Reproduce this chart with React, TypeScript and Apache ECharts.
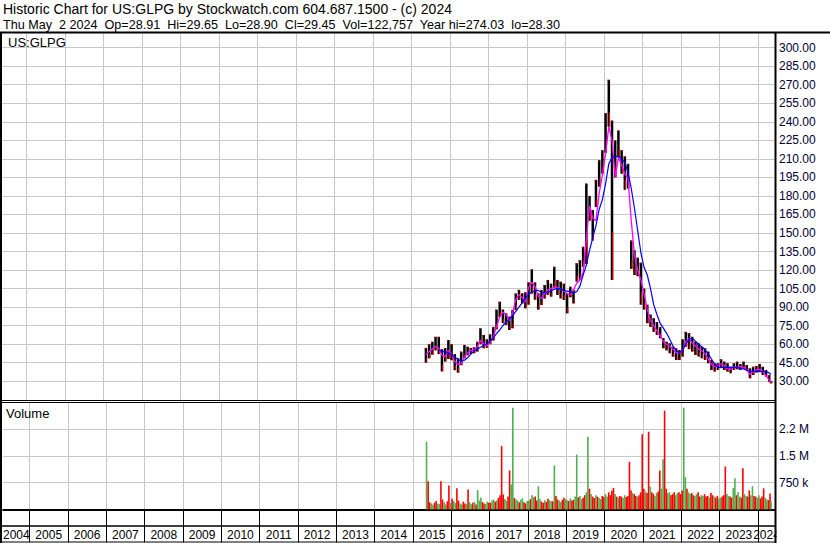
import React, { useEffect, useRef } from 'react';
import * as echarts from 'echarts';

const FONT = 'Arial, "Liberation Sans", Helvetica, sans-serif';
const AXIS_TEXT = '#000033';
const GRID_GREY = '#c8c8c8';
const VOL_GREEN = '#4cb04c';
const VOL_RED = '#ff0000';

const headerLine1 = 'Historic Chart for US:GLPG by Stockwatch.com 604.687.1500 - (c) 2024';
const headerLine2 = 'Thu May  2 2024  Op=28.91  Hi=29.65  Lo=28.90  Cl=29.45  Vol=122,757  Year hi=274.03  lo=28.30';
const symbolLabel = 'US:GLPG';
const volumeLabel = 'Volume';

// x extent in decimal years (left edge / right edge of the plot)
const X_MIN = 2004.312;
const X_MAX = 2024.442;

const yearTicks = [2005, 2006, 2007, 2008, 2009, 2010, 2011, 2012, 2013, 2014, 2015, 2016, 2017, 2018, 2019, 2020, 2021, 2022, 2023, 2024];
const yearLabelPos = [2004.656, 2005.5, 2006.5, 2007.5, 2008.5, 2009.5, 2010.5, 2011.5, 2012.5, 2013.5, 2014.5, 2015.5, 2016.5, 2017.5, 2018.5, 2019.5, 2020.5, 2021.5, 2022.5, 2023.5, 2024.221];

const months = [
  '2015-05', '2015-06', '2015-07', '2015-08', '2015-09', '2015-10', '2015-11', '2015-12',
  '2016-01', '2016-02', '2016-03', '2016-04', '2016-05', '2016-06', '2016-07', '2016-08', '2016-09', '2016-10', '2016-11', '2016-12',
  '2017-01', '2017-02', '2017-03', '2017-04', '2017-05', '2017-06', '2017-07', '2017-08', '2017-09', '2017-10', '2017-11', '2017-12',
  '2018-01', '2018-02', '2018-03', '2018-04', '2018-05', '2018-06', '2018-07', '2018-08', '2018-09', '2018-10', '2018-11', '2018-12',
  '2019-01', '2019-02', '2019-03', '2019-04', '2019-05', '2019-06', '2019-07', '2019-08', '2019-09', '2019-10', '2019-11', '2019-12',
  '2020-01', '2020-02', '2020-03', '2020-04', '2020-05', '2020-06', '2020-07', '2020-08', '2020-09', '2020-10', '2020-11', '2020-12',
  '2021-01', '2021-02', '2021-03', '2021-04', '2021-05', '2021-06', '2021-07', '2021-08', '2021-09', '2021-10', '2021-11', '2021-12',
  '2022-01', '2022-02', '2022-03', '2022-04', '2022-05', '2022-06', '2022-07', '2022-08', '2022-09', '2022-10', '2022-11', '2022-12',
  '2023-01', '2023-02', '2023-03', '2023-04', '2023-05', '2023-06', '2023-07', '2023-08', '2023-09', '2023-10', '2023-11', '2023-12',
  '2024-01', '2024-02', '2024-03', '2024-04', '2024-05-02',
];

const priceHigh = [
  57, 60, 62, 66, 66, 56, 57, 63.4, 60, 52,
  48.6, 54, 59.4, 58, 57, 57.5, 62, 72.9, 67.5, 64,
  68, 74, 88, 94.4, 88, 85, 82.3, 87.7, 101, 104,
  101.2, 102, 110, 120.6, 110, 101.2, 103.9, 107.9, 112, 109,
  122.7, 112, 110.6, 109, 101.2, 106.5, 104, 125.5, 128, 138.9,
  190, 180, 168.6, 193, 209, 217, 247, 274, 241, 225,
  233, 217, 212, 206, 144, 136, 130, 126, 105, 92,
  84, 81, 78, 74, 65, 62, 60.7, 58, 56.7, 55.3,
  64, 70, 69, 66, 62, 60.7, 58, 56.7, 54, 47.2,
  44.6, 44.6, 47.8, 45.9, 44.6, 41.8, 44.6, 45.9, 44, 45.9,
  43.2, 40.5, 41.8, 42.4, 44, 41.8, 39.1, 35.1, 30,
];

const priceLow = [
  45, 48.6, 51.5, 55, 52, 38, 46, 48, 47, 39,
  37, 43, 48.6, 51, 52, 52.7, 54, 60, 56.7, 57,
  60, 63, 72, 82, 77, 75.6, 71.5, 73, 87.7, 95.8,
  93, 89, 92, 101, 96, 88, 91.7, 97, 99.8, 98.5,
  106.5, 99.8, 97, 95.8, 85, 98, 93, 110.6, 112, 122.7,
  125, 160, 144, 171, 187.5, 198, 215, 236, 112, 195,
  211, 198, 185, 186, 121, 116, 115, 92, 88, 77,
  74, 70, 67.5, 64.8, 56.7, 55, 52.7, 49.9, 47.2, 47.2,
  50, 58, 56, 54, 51.3, 50, 48.6, 47.2, 44.6, 39.1,
  37.8, 39.1, 41.3, 39.1, 37.8, 36.5, 39.1, 39.7, 39.1, 40.5,
  38.6, 32.4, 35.1, 37, 37.8, 35.1, 33.7, 29.7, 28.3,
];

// short moving average (magenta)
const maShort = [
  51.5, 54, 56, 58, 57, 51, 50, 55, 52, 46,
  43.5, 44.5, 50, 53, 55, 55.3, 58, 63, 60.5, 58.6,
  61.5, 66, 74, 82, 86, 84, 79, 85, 96, 100,
  98, 94, 106, 110, 106.5, 99, 97, 101, 104, 105,
  106, 106, 104.5, 103, 101, 100, 104, 109.3, 112, 118,
  145, 172, 162, 160, 182, 197, 214, 236, 225, 195,
  211, 205, 198, 194, 160, 132, 120, 112, 101, 88,
  79, 75, 71, 67, 62, 60, 58.5, 56, 53, 53,
  55, 62, 64.5, 61, 58.5, 56, 54.5, 52.5, 48, 43.5,
  41.8, 42.5, 44.2, 42.8, 40, 39.5, 41.5, 41.3, 41.8, 41.3,
  39.1, 35.5, 37.6, 39.6, 39.7, 38, 34.5, 31, 29.5,
];

// long moving average (blue)
const maLong = [
  null, null, null, null, 55.5, 54, 54, 53, 51.3, 49.5,
  48, 46, 47, 49, 52, 54.5, 56, 57.5, 59, 60.5,
  62.5, 65, 68.5, 71.5, 75, 78, 80.5, 83, 86.5, 90,
  93.5, 97, 100.5, 102, 103.5, 103.5, 102, 101.5, 102, 103,
  104.5, 105, 104.5, 103.5, 103, 102.5, 101.5, 102.5, 107, 116,
  124, 136, 146, 156, 169, 177, 190, 206, 211, 212,
  212, 210, 207, 199, 186, 170, 152, 134, 122, 116,
  105, 92, 84, 77, 73, 69, 64, 58.5, 55, 53,
  55, 60, 64, 65, 62.5, 60, 58, 55.5, 52, 48,
  44, 41.5, 41, 41.3, 41.3, 41.3, 41.3, 41, 40.5, 40,
  39.1, 38.5, 37.8, 38.3, 37.8, 37.8, 37.8, 36.8, 35.5,
];

// volume in thousands, first and second half of each month
const volFirstHalf = [
  1890, 200, 130, 240, 160, 280, 140, 670, 300, 180,
  250, 140, 170, 560, 150, 210, 540, 330, 170, 220,
  190, 280, 260, 400, 420, 240, 1090, 2840, 280, 200,
  310, 170, 240, 400, 360, 650, 220, 260, 300, 240,
  1230, 280, 210, 330, 260, 310, 270, 1530, 380, 330,
  480, 580, 360, 400, 330, 380, 430, 480, 530, 430,
  330, 360, 400, 380, 530, 430, 360, 480, 580, 460,
  640, 430, 460, 1090, 1400, 580, 480, 430, 400, 480,
  530, 900, 480, 460, 380, 480, 400, 430, 380, 460,
  360, 380, 330, 400, 430, 360, 600, 400, 360, 1150,
  380, 530, 650, 360, 400, 360, 330, 260, 230,
];
const volSecondHalf = [
  785, 170, 190, 160, 785, 200, 230, 180, 240, 590,
  170, 220, 150, 200, 190, 140, 250, 210, 160, 190,
  250, 220, 320, 1770, 290, 360, 700, 320, 250, 270,
  200, 240, 290, 340, 250, 290, 190, 210, 260, 230,
  380, 250, 270, 290, 240, 250, 360, 340, 290, 400,
  2030, 430, 320, 360, 290, 350, 360, 400, 600, 360,
  380, 320, 350, 1330, 460, 380, 400, 2100, 500, 2170,
  480, 380, 500, 580, 2760, 460, 400, 480, 460, 430,
  2840, 580, 430, 400, 430, 360, 380, 360, 330, 400,
  330, 310, 360, 1200, 380, 330, 870, 480, 330, 430,
  360, 400, 380, 330, 310, 590, 280, 450, 0,
];
// g = up day (green), r = down day (red)
const colFirstHalf = 'grgrgrgrrg' + 'rgrrggggrg' + 'rggrrgrggr' + 'grggrgrgrg' + 'grgrggrggr' + 'grrggrgrrg' + 'grgrrrgrrr' + 'grgrgrgrgr' + 'rggrgrgrrr' + 'grgrgrgrgr' + 'grgrgrgrg';
const colSecondHalf = 'rgrgrgrggr' + 'grggrrgrgr' + 'grrrgrgrgg' + 'rgrgrgrrgr' + 'rgrgrrgrgr' + 'ggrrgrgrrr' + 'rgrrgrrrgr' + 'rgrgrgrrgr' + 'grgrgrgrgr' + 'rgrrgrggrg' + 'rgrgrrgrg';

function monthPos(m: string): number {
  const p = m.split('-').map(Number);
  const frac = p.length > 2 ? p[2] / 31 : 0.5;
  return p[0] + (p[1] - 1 + frac) / 12;
}
function halfPos(m: string, h: number): number {
  const p = m.split('-').map(Number);
  if (p.length > 2) return p[0] + (p[1] - 1 + p[2] / 31) / 12;
  return p[0] + (p[1] - 1 + 0.25 + 0.5 * h) / 12;
}

function buildOption(): any {
  const priceData = months.map((m, i) => [monthPos(m), priceHigh[i], priceLow[i]]);
  const shortData = months.map((m, i) => [monthPos(m), maShort[i]]);
  const longData = months
    .map((m, i) => (maLong[i] == null ? null : [monthPos(m), maLong[i]]))
    .filter((d) => d !== null);
  const volData: number[][] = [];
  months.forEach((m, i) => {
    volData.push([halfPos(m, 0), volFirstHalf[i] * 1000, colFirstHalf[i] === 'g' ? 1 : 0]);
    if (volSecondHalf[i] > 0) {
      volData.push([halfPos(m, 1), volSecondHalf[i] * 1000, colSecondHalf[i] === 'g' ? 1 : 0]);
    }
  });

  const labelStyle = { fontFamily: FONT, fontSize: 12, color: AXIS_TEXT };
  const textStyle = (text: string, size: number) => ({ text, fontSize: size, fontFamily: FONT, fill: '#000', verticalAlign: 'middle' });

  return {
    animation: false,
    backgroundColor: '#ffffff',
    grid: [
      { left: 0, right: 55, top: 29.1, height: 370.7 },
      { left: 0, right: 55, top: 402, height: 107.5 },
    ],
    xAxis: [
      {
        type: 'value', gridIndex: 0, min: X_MIN, max: X_MAX,
        axisLine: { show: false },
        axisTick: { show: false, customValues: yearTicks },
        axisLabel: { show: false },
        splitLine: { show: true, lineStyle: { color: GRID_GREY, width: 1 } },
      },
      {
        type: 'value', gridIndex: 1, min: X_MIN, max: X_MAX,
        axisLine: { show: true, onZero: false, lineStyle: { color: '#000', width: 2 } },
        axisTick: { show: true, customValues: yearTicks, length: 33, lineStyle: { color: '#000', width: 1 } },
        axisLabel: {
          show: true, customValues: yearLabelPos, margin: 19,
          fontFamily: FONT, fontSize: 12, color: '#000',
          formatter: (v: number) => String(Math.floor(v)),
        },
        splitLine: { show: true, lineStyle: { color: GRID_GREY, width: 1 } },
      },
    ],
    yAxis: [
      {
        type: 'value', gridIndex: 0, position: 'right', min: 15, max: 315, interval: 15,
        axisLine: { show: false }, axisTick: { show: false },
        axisLabel: {
          ...labelStyle, margin: 4, showMinLabel: false, showMaxLabel: false,
          formatter: (v: number) => v.toFixed(2),
        },
        splitLine: { show: true, lineStyle: { color: GRID_GREY, width: 1 } },
      },
      {
        type: 'value', gridIndex: 1, position: 'right', min: 0, max: 3000000, interval: 750000,
        axisLine: { show: false }, axisTick: { show: false },
        axisLabel: {
          ...labelStyle, margin: 4, showMinLabel: false, showMaxLabel: false,
          formatter: (v: number) => (v >= 1000000 ? (Math.floor(v / 100000) / 10).toFixed(1) + ' M' : Math.round(v / 1000) + ' k'),
        },
        splitLine: { show: true, lineStyle: { color: GRID_GREY, width: 1 } },
      },
    ],
    series: [
      {
        type: 'custom', name: 'price', xAxisIndex: 0, yAxisIndex: 0, data: priceData,
        encode: { x: 0, y: [1, 2] },
        renderItem: (params: any, api: any) => {
          const t = api.value(0);
          const hi = api.coord([t, api.value(1)]);
          const lo = api.coord([t, api.value(2)]);
          const w = api.size([1 / 12, 0])[0] * 0.78;
          const h = Math.max(lo[1] - hi[1], 1);
          const redH = Math.max(h * 0.3, 1.5);
          return {
            type: 'group',
            children: [
              { type: 'rect', shape: { x: hi[0] - w / 2, y: hi[1], width: w, height: h }, style: { fill: '#000' } },
              { type: 'rect', shape: { x: hi[0] + w / 2 - 1, y: lo[1] - redH, width: 1, height: redH }, style: { fill: '#f00' } },
              { type: 'rect', shape: { x: hi[0] - w / 2, y: hi[1], width: 1, height: 1.5 }, style: { fill: '#f00' } },
            ],
          };
        },
      },
      {
        type: 'line', name: 'short MA', xAxisIndex: 0, yAxisIndex: 0, data: shortData,
        symbol: 'none', lineStyle: { color: '#ff00ff', width: 1.3 }, itemStyle: { color: '#ff00ff' },
      },
      {
        type: 'line', name: 'long MA', xAxisIndex: 0, yAxisIndex: 0, data: longData,
        symbol: 'none', lineStyle: { color: '#0000ff', width: 1.2 }, itemStyle: { color: '#0000ff' },
      },
      {
        type: 'custom', name: 'volume', xAxisIndex: 1, yAxisIndex: 1, data: volData,
        encode: { x: 0, y: 1 },
        renderItem: (params: any, api: any) => {
          const t = api.value(0);
          const base = api.coord([t, 0]);
          const top = api.coord([t, api.value(1)]);
          const w = api.size([1 / 24, 0])[0];
          return {
            type: 'rect',
            shape: { x: base[0] - w / 2, y: top[1], width: w, height: base[1] - top[1] },
            style: { fill: api.value(2) ? VOL_GREEN : VOL_RED },
          };
        },
      },
    ],
    graphic: {
      elements: [
        { type: 'rect', z: 100, shape: { x: 0, y: 0, width: 830, height: 32 }, style: { fill: '#fff' } },
        { type: 'rect', z: 100, shape: { x: 776.5, y: 511, width: 54, height: 32 }, style: { fill: '#fff' } },
        { type: 'text', z: 101, x: 3, y: 9, style: textStyle(headerLine1, 14) },
        { type: 'text', z: 101, x: 3, y: 25, style: textStyle(headerLine2, 12.6) },
        { type: 'text', z: 101, x: 8, y: 42, style: textStyle(symbolLabel, 13) },
        { type: 'text', z: 101, x: 6, y: 413, style: textStyle(volumeLabel, 13) },
        { type: 'line', z: 102, shape: { x1: 0, y1: 32.5, x2: 830, y2: 32.5 }, style: { stroke: '#000', lineWidth: 2 } },
        { type: 'line', z: 102, shape: { x1: 1, y1: 32, x2: 1, y2: 543 }, style: { stroke: '#000', lineWidth: 2 } },
        { type: 'line', z: 102, shape: { x1: 775.5, y1: 32, x2: 775.5, y2: 543 }, style: { stroke: '#000', lineWidth: 2 } },
        { type: 'line', z: 102, shape: { x1: 0, y1: 400.5, x2: 775, y2: 400.5 }, style: { stroke: '#000', lineWidth: 1 } },
        { type: 'line', z: 102, shape: { x1: 0, y1: 402.5, x2: 775, y2: 402.5 }, style: { stroke: '#000', lineWidth: 1 } },
        { type: 'line', z: 102, shape: { x1: 0, y1: 526, x2: 775, y2: 526 }, style: { stroke: '#000', lineWidth: 1.5 } },
        { type: 'line', z: 102, shape: { x1: 0, y1: 542, x2: 775, y2: 542 }, style: { stroke: '#000', lineWidth: 1 } },
      ],
    },
  };
}

export default function App() {
  const ref = useRef<HTMLDivElement>(null);
  useEffect(() => {
    document.body.style.margin = '0';
    if (!ref.current) return;
    const chart = echarts.init(ref.current, null, { renderer: 'svg' });
    chart.setOption(buildOption());
    return () => chart.dispose();
  }, []);
  return <div ref={ref} style={{ width: 830, height: 543, background: '#fff' }} />;
}
